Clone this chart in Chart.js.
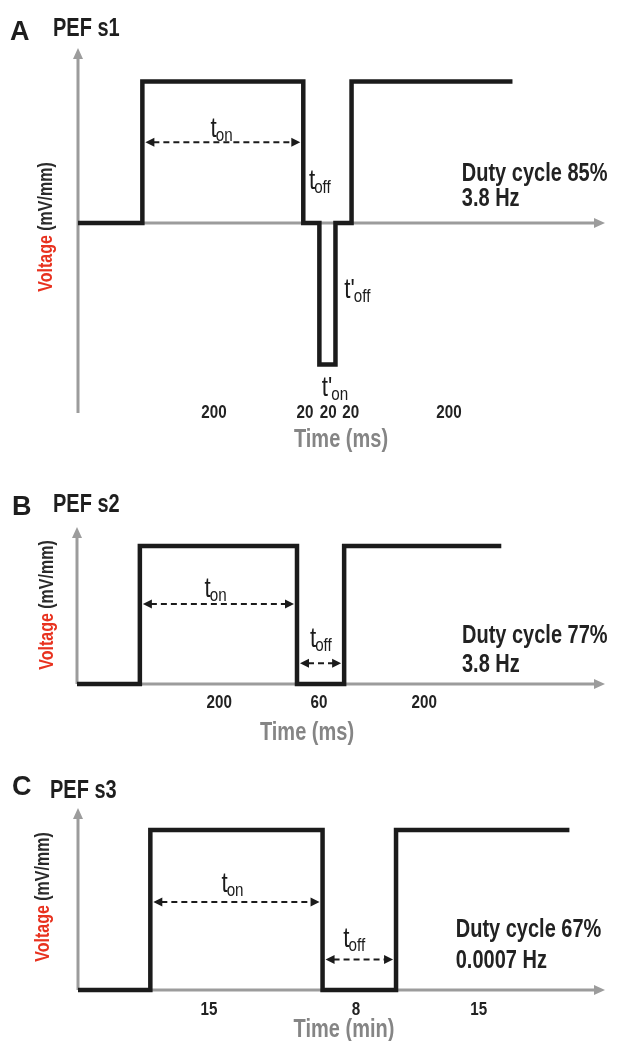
<!DOCTYPE html>
<html>
<head>
<meta charset="utf-8">
<script src="https://cdn.jsdelivr.net/npm/chart.js@4.4.1/dist/chart.umd.min.js"></script>
<style>
html, body { margin: 0; padding: 0; background: #fff; }
#wrap { position: relative; width: 618px; height: 1041px; overflow: hidden; }
canvas { position: absolute; left: 0; }
</style>
</head>
<body>
<div id="wrap">
  <canvas id="chartA" width="618" height="455" style="top:0px"></canvas>
  <canvas id="chartB" width="618" height="295" style="top:455px"></canvas>
  <canvas id="chartC" width="618" height="291" style="top:750px"></canvas>
</div>
<script>
// Panel A - PEF s1 (bipolar pulse), time in ms
const aEdges = [0, 80, 280, 300, 320, 340, 540];
const aLevels = [0, 1, 0, -1, 0, 1, 1];
const aTickLabels = ['200', '20', '20', '20', '200'];
const aTickAt = [169, 282, 311, 339, 461];

// Panel B - PEF s2, time in ms
const bEdges = [0, 80, 280, 340, 540];
const bLevels = [0, 1, 0, 1, 1];
const bTickLabels = ['200', '60', '200'];
const bTickAt = [181, 308, 442];

// Panel C - PEF s3, time in min (schematic spacing)
const cEdges = [0, 6.3, 21.3, 27.7, 42.8];
const cLevels = [0, 1, 0, 1, 1];
const cTickLabels = ['15', '8', '15'];
const cTickAt = [11.4, 24.2, 34.9];

const FONT = '"Liberation Sans", Arial, sans-serif';
const SQUEEZE = 0.8;   // no condensed face installed, so squeeze horizontally
const AXIS_GREY = '#9c9c9c';
const INK = '#1b1b1b';

function head(ctx, x, y, dir, len, half) {
  ctx.beginPath();
  if (dir === 'up') { ctx.moveTo(x, y); ctx.lineTo(x - half, y + len); ctx.lineTo(x + half, y + len); }
  else if (dir === 'right') { ctx.moveTo(x, y); ctx.lineTo(x - len, y - half); ctx.lineTo(x - len, y + half); }
  else { ctx.moveTo(x, y); ctx.lineTo(x + len, y - half); ctx.lineTo(x + len, y + half); }
  ctx.closePath();
  ctx.fill();
}

// narrow text: draws s at (x,y) squeezed horizontally
function ntext(ctx, s, x, y, font, color, align) {
  ctx.save();
  ctx.font = font;
  ctx.fillStyle = color;
  ctx.textAlign = align || 'left';
  ctx.textBaseline = 'alphabetic';
  ctx.translate(x, y);
  ctx.scale(SQUEEZE, 1);
  ctx.fillText(s, 0, 0);
  ctx.restore();
}
function nwidth(ctx, s, font) {
  ctx.save();
  ctx.font = font;
  const w = ctx.measureText(s).width * SQUEEZE;
  ctx.restore();
  return w;
}

function drawT(ctx, x, y, sub, prime, align) {
  const main = prime ? "t'" : 't';
  const f1 = '28px ' + FONT, f2 = '19px ' + FONT;
  const w1 = nwidth(ctx, main, f1);
  const w2 = nwidth(ctx, sub, f2);
  const left = align === 'center' ? x - (w1 + w2) / 2 : x;
  ntext(ctx, main, left, y, f1, INK);
  ntext(ctx, sub, left + w1 - 1, y + 4, f2, INK);
}

function makePanel(id, p) {
  const decor = {
    id: 'decor',
    beforeDatasetsDraw(chart) {
      const ctx = chart.ctx, a = chart.chartArea;
      const xs = chart.scales.x, ys = chart.scales.y;
      const x0 = xs.getPixelForValue(0), y0 = ys.getPixelForValue(0);
      ctx.save();
      ctx.strokeStyle = AXIS_GREY;
      ctx.fillStyle = AXIS_GREY;
      ctx.lineWidth = 3;
      ctx.beginPath();
      ctx.moveTo(x0, a.bottom);
      ctx.lineTo(x0, a.top + 8);
      ctx.stroke();
      head(ctx, x0, a.top, 'up', 11, 5);
      ctx.beginPath();
      ctx.moveTo(x0, y0);
      ctx.lineTo(a.right - 8, y0);
      ctx.stroke();
      head(ctx, a.right, y0, 'right', 11, 5);
      ctx.restore();
    },
    afterDatasetsDraw(chart) {
      const ctx = chart.ctx;
      const xs = chart.scales.x, ys = chart.scales.y;
      const y0 = ys.getPixelForValue(0);
      ctx.save();
      // dashed double arrows
      p.arrows.forEach(ar => {
        const x1 = xs.getPixelForValue(ar.from) + 3;
        const x2 = xs.getPixelForValue(ar.to) - 3;
        const yy = ys.getPixelForValue(ar.y);
        ctx.strokeStyle = INK;
        ctx.fillStyle = INK;
        ctx.lineWidth = 2;
        ctx.setLineDash([6, 4]);
        ctx.beginPath();
        ctx.moveTo(x1 + 8, yy);
        ctx.lineTo(x2 - 8, yy);
        ctx.stroke();
        ctx.setLineDash([]);
        head(ctx, x1, yy, 'left', 9, 4.5);
        head(ctx, x2, yy, 'right', 9, 4.5);
      });
      // t labels
      p.tLabels.forEach(t => {
        drawT(ctx, xs.getPixelForValue(t.x), ys.getPixelForValue(t.y), t.sub, t.prime, t.align);
      });
      // duty cycle text
      p.duty.lines.forEach((s, i) => {
        ntext(ctx, s, xs.getPixelForValue(p.duty.x), ys.getPixelForValue(p.duty.y[i]), 'bold 25px ' + FONT, '#222');
      });
      // segment duration labels
      p.tickLabels.forEach((s, i) => {
        ntext(ctx, s, xs.getPixelForValue(p.tickAt[i]), y0 + p.tickDy, 'bold 19px ' + FONT, '#222', 'center');
      });
      // x title
      ntext(ctx, p.xTitle.s, p.xTitle.cx, p.xTitle.y, 'bold 25px ' + FONT, '#858585', 'center');
      // panel letter + name
      ctx.fillStyle = '#1e1e1e';
      ctx.textAlign = 'left';
      ctx.textBaseline = 'alphabetic';
      ctx.font = 'bold 27px ' + FONT;
      ctx.fillText(p.letter.s, p.letter.x, p.letter.y);
      ntext(ctx, p.name.s, p.name.x, p.name.y, 'bold 25px ' + FONT, '#1e1e1e');
      // y title, two colours, rotated
      ctx.translate(p.vlabel.x, p.vlabel.cy);
      ctx.rotate(-Math.PI / 2);
      const vf = 'bold 20px ' + FONT;
      const w1 = nwidth(ctx, 'Voltage ', vf);
      const w2 = nwidth(ctx, '(mV/mm)', vf);
      const start = -(w1 + w2) / 2;
      ntext(ctx, 'Voltage ', start, 7, vf, '#e8321f');
      ntext(ctx, '(mV/mm)', start + w1, 7, vf, '#2a2a2a');
      ctx.restore();
    }
  };

  return new Chart(document.getElementById(id), {
    type: 'line',
    data: {
      datasets: [{
        data: p.edges.map((x, i) => ({ x: x, y: p.levels[i] })),
        borderColor: INK,
        borderWidth: 4.5,
        stepped: true,
        pointRadius: 0,
        fill: false,
        clip: false,
        borderJoinStyle: 'miter',
        borderCapStyle: 'butt'
      }]
    },
    options: {
      responsive: false,
      animation: false,
      events: [],
      layout: { padding: p.pad },
      plugins: { legend: { display: false }, tooltip: { enabled: false } },
      scales: {
        x: { type: 'linear', min: 0, max: p.xMax, display: false },
        y: { type: 'linear', min: p.yMin, max: p.yMax, display: false }
      }
    },
    plugins: [decor]
  });
}

makePanel('chartA', {
  edges: aEdges, levels: aLevels, tickLabels: aTickLabels, tickAt: aTickAt,
  xMax: 655, yMin: -1.343, yMax: 1.237,
  pad: { left: 78, right: 13, top: 48, bottom: 42 },
  tickDy: 195,
  arrows: [{ from: 80, to: 280, y: 0.57 }],
  tLabels: [
    { x: 179, y: 0.61, sub: 'on', align: 'center' },
    { x: 287, y: 0.24, sub: 'off', align: 'left' },
    { x: 331, y: -0.53, sub: 'off', prime: true, align: 'left' },
    { x: 303, y: -1.22, sub: 'on', prime: true, align: 'left' }
  ],
  duty: { x: 477, y: [0.30, 0.12], lines: ['Duty cycle 85%', '3.8 Hz'] },
  xTitle: { s: 'Time (ms)', cx: 341, y: 447 },
  letter: { s: 'A', x: 10, y: 40 },
  name: { s: 'PEF s1', x: 53, y: 36 },
  vlabel: { x: 45, cy: 227 }
});

makePanel('chartB', {
  edges: bEdges, levels: bLevels, tickLabels: bTickLabels, tickAt: bTickAt,
  xMax: 672, yMin: 0, yMax: 1.138,
  pad: { left: 77, right: 13, top: 72, bottom: 66 },
  tickDy: 24,
  arrows: [{ from: 80, to: 280, y: 0.58 }, { from: 280, to: 340, y: 0.15 }],
  tLabels: [
    { x: 177, y: 0.63, sub: 'on', align: 'center' },
    { x: 311, y: 0.27, sub: 'off', align: 'center' }
  ],
  duty: { x: 490, y: [0.30, 0.09], lines: ['Duty cycle 77%', '3.8 Hz'] },
  xTitle: { s: 'Time (ms)', cx: 307, y: 285 },
  letter: { s: 'B', x: 12, y: 60 },
  name: { s: 'PEF s2', x: 53, y: 57 },
  vlabel: { x: 46, cy: 150 }
});

makePanel('chartC', {
  edges: cEdges, levels: cLevels, tickLabels: cTickLabels, tickAt: cTickAt,
  xMax: 45.9, yMin: 0, yMax: 1.1375,
  pad: { left: 78, right: 13, top: 58, bottom: 51 },
  tickDy: 25,
  arrows: [{ from: 6.3, to: 21.3, y: 0.55 }, { from: 21.3, to: 27.7, y: 0.19 }],
  tLabels: [
    { x: 13.5, y: 0.61, sub: 'on', align: 'center' },
    { x: 24.1, y: 0.27, sub: 'off', align: 'center' }
  ],
  duty: { x: 32.9, y: [0.33, 0.14], lines: ['Duty cycle 67%', '0.0007 Hz'] },
  xTitle: { s: 'Time (min)', cx: 344, y: 287 },
  letter: { s: 'C', x: 12, y: 45 },
  name: { s: 'PEF s3', x: 50, y: 48 },
  vlabel: { x: 42, cy: 147 }
});
</script>
</body>
</html>
